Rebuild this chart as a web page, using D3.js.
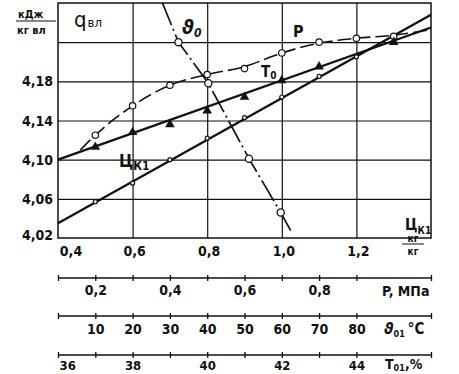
<!doctype html>
<html>
<head>
<script src="https://cdn.jsdelivr.net/npm/d3@7/dist/d3.min.js"></script>
<style>
body { margin: 0; background: #fff; }
svg { display: block; background: #fff; }
text { font-family: "Liberation Sans Narrow", "DejaVu Sans Condensed", "Arial Narrow", sans-serif; font-weight: bold; fill: #111; }
.grid line, .grid path { stroke: #111; stroke-width: 1.2; }
</style>
</head>
<body>
<svg width="459" height="374"></svg>
<script>
// main axes
var xTicks = [0.4, 0.6, 0.8, 1.0, 1.2];
var yTicks = [4.06, 4.10, 4.14, 4.18, 4.22];
var yLabels = [4.02, 4.06, 4.10, 4.14, 4.18];

// q_vl (dashed, open circles)
var qX = [0.5, 0.6, 0.7, 0.8, 0.9, 1.0, 1.1, 1.2, 1.3];
var qY = [4.125, 4.155, 4.176, 4.187, 4.193, 4.209, 4.220, 4.224, 4.226];
var qLineX = [0.46, 0.5, 0.6, 0.7, 0.8, 0.9, 1.0, 1.1, 1.2, 1.3, 1.4];
var qLineY = [4.110, 4.125, 4.155, 4.176, 4.187, 4.195, 4.209, 4.219, 4.224, 4.227, 4.233];

// T0 (solid, triangles)
var t0X = [0.5, 0.6, 0.7, 0.8, 0.9, 1.0, 1.1, 1.3];
var t0Y = [4.113, 4.128, 4.136, 4.150, 4.164, 4.181, 4.195, 4.220];
var t0LineX = [0.4, 1.4];
var t0LineY = [4.100, 4.235];

// U_K1 (solid, small circles)
var ukX = [0.5, 0.6, 0.7, 0.8, 0.9, 1.0, 1.1, 1.2];
var ukY = [4.057, 4.076, 4.100, 4.122, 4.143, 4.164, 4.185, 4.205];
var ukLineX = [0.4, 1.4];
var ukLineY = [4.035, 4.248];

// theta0 (dash-dot, open circles)
var thX = [0.68, 0.723, 0.803, 0.912, 0.997, 1.029];
var thY = [4.26, 4.220, 4.178, 4.101, 4.046, 4.024];
var thMarks = [1, 2, 3, 4];

// extra scales under the chart
var pTicks = [0.1, 0.2, 0.3, 0.4, 0.5, 0.6, 0.7, 0.8, 0.9, 1.1];
var pLabels = [0.2, 0.4, 0.6, 0.8];
var tempTicks = [0, 10, 20, 30, 40, 50, 60, 70, 80, 100];
var tempLabels = [10, 20, 30, 40, 50, 60, 70, 80];
var tTicks = [36, 37, 38, 39, 40, 41, 42, 43, 44, 46];
var tLabels = [36, 38, 40, 42, 44];

var svg = d3.select("svg");
var L = 58, R = 431, T = 3, B = 238;
var x = d3.scaleLinear().domain([0.4, 1.4]).range([L, R]);
var y = d3.scaleLinear().domain([4.02, 4.26]).range([B, T]);
var comma = function(f) { return function(d) { return d3.format(f)(d).replace(".", ","); }; };

// grid
svg.append("g").attr("class", "grid").attr("transform", "translate(0," + B + ")")
  .call(d3.axisBottom(x).tickValues([0.6, 0.8, 1.0, 1.2]).tickSize(-(B - T)).tickFormat(""))
  .select(".domain").remove();
svg.append("g").attr("class", "grid").attr("transform", "translate(" + L + ",0)")
  .call(d3.axisLeft(y).tickValues(yTicks).tickSize(-(R - L)).tickFormat(""))
  .select(".domain").remove();
svg.append("rect").attr("x", L).attr("y", T).attr("width", R - L).attr("height", B - T)
  .attr("fill", "none").attr("stroke", "#111").attr("stroke-width", 1.5);

// tick labels
svg.selectAll(".ylab").data(yLabels).enter().append("text")
  .attr("x", 53).attr("y", d => y(d) + (d === 4.02 ? 2 : 5))
  .attr("text-anchor", "end").style("font-size", "14px")
  .text(comma(".2f"));
svg.selectAll(".xlab").data(xTicks).enter().append("text")
  .attr("x", d => x(d) + (d === 0.4 ? 13 : 2)).attr("y", 256)
  .attr("text-anchor", "middle").style("font-size", "14px")
  .text(comma(".1f"));

// units
svg.append("text").attr("x", 18).attr("y", 18).style("font-size", "11px").text("кДж");
svg.append("line").attr("x1", 16).attr("x2", 56).attr("y1", 21).attr("y2", 21).attr("stroke", "#111").attr("stroke-width", 1.2);
svg.append("text").attr("x", 17).attr("y", 34).style("font-size", "11px").text("кг вл");
svg.append("text").attr("x", 405).attr("y", 230).style("font-size", "15px").text("Ц")
  .append("tspan").attr("dy", 4).style("font-size", "10px").text("К1");
svg.append("text").attr("x", 413).attr("y", 242).attr("text-anchor", "middle").style("font-size", "10px").text("кг");
svg.append("line").attr("x1", 402).attr("x2", 424).attr("y1", 244).attr("y2", 244).attr("stroke", "#111").attr("stroke-width", 1);
svg.append("text").attr("x", 413).attr("y", 255).attr("text-anchor", "middle").style("font-size", "10px").text("кг");

// series
var line = d3.line().x(d => x(d[0])).y(d => y(d[1]));
var zip = function(a, b) { return a.map((v, i) => [v, b[i]]); };

svg.append("path").attr("d", line(zip(ukLineX, ukLineY)))
  .attr("fill", "none").attr("stroke", "#111").attr("stroke-width", 2.3);
svg.append("path").attr("d", line(zip(t0LineX, t0LineY)))
  .attr("fill", "none").attr("stroke", "#111").attr("stroke-width", 2.3);
svg.append("path").attr("d", line.curve(d3.curveMonotoneX)(zip(qLineX, qLineY)))
  .attr("fill", "none").attr("stroke", "#111").attr("stroke-width", 1.6).attr("stroke-dasharray", "14,5");
svg.append("path").attr("d", line.curve(d3.curveLinear)(zip(thX, thY)))
  .attr("fill", "none").attr("stroke", "#111").attr("stroke-width", 1.7).attr("stroke-dasharray", "24,4,2,4");

svg.selectAll(".uk").data(zip(ukX, ukY)).enter().append("circle")
  .attr("cx", d => x(d[0])).attr("cy", d => y(d[1])).attr("r", 2)
  .attr("fill", "#fff").attr("stroke", "#111").attr("stroke-width", 1.2);
svg.selectAll(".q").data(zip(qX, qY)).enter().append("circle")
  .attr("cx", d => x(d[0])).attr("cy", d => y(d[1])).attr("r", 3.2)
  .attr("fill", "#fff").attr("stroke", "#111").attr("stroke-width", 1.2);
svg.selectAll(".th").data(thMarks).enter().append("circle")
  .attr("cx", i => x(thX[i])).attr("cy", i => y(thY[i])).attr("r", 3.6)
  .attr("fill", "#fff").attr("stroke", "#111").attr("stroke-width", 1.3);
svg.selectAll(".t0").data(zip(t0X, t0Y)).enter().append("path")
  .attr("d", d3.symbol(d3.symbolTriangle, 40))
  .attr("transform", d => "translate(" + x(d[0]) + "," + y(d[1]) + ")")
  .attr("fill", "#111");

// curve labels
svg.append("text").attr("x", 74).attr("y", 27).style("font-size", "22px").style("font-weight", "normal").text("q")
  .append("tspan").attr("dx", 1).style("font-size", "13px").text("вл");
svg.append("text").attr("x", 182).attr("y", 34).style("font-size", "20px").style("font-style", "italic").text("ϑ")
  .append("tspan").attr("dy", 3).style("font-size", "12px").text("0");
svg.append("text").attr("x", 293).attr("y", 37).style("font-size", "16px").text("P");
svg.append("text").attr("x", 261).attr("y", 77).style("font-size", "15px").text("T")
  .append("tspan").attr("dy", 2).style("font-size", "10px").text("0");
svg.append("text").attr("x", 119).attr("y", 167).style("font-size", "17px").text("Ц")
  .append("tspan").attr("dy", 3).style("font-size", "12px").text("К1");

// extra scales
function scaleRow(dom, ticks, labels, fmt, yy, dy, fs) {
  var s = d3.scaleLinear().domain(dom).range([L, R]);
  var g = svg.append("g").attr("transform", "translate(0," + yy + ")")
    .call(d3.axisBottom(s).tickValues(ticks).tickSizeOuter(0).tickSize(3)
      .tickFormat(d => labels.indexOf(d) >= 0 ? fmt(d) : ""));
  g.select(".domain").attr("stroke", "#111").attr("stroke-width", 1.3).attr("d", "M" + L + ",0H" + R);
  g.selectAll(".tick line").attr("y1", -3).attr("y2", 3).attr("stroke", "#111").attr("stroke-width", 1.3);
  g.selectAll(".tick text").attr("y", dy).attr("dy", 0).style("font-size", fs + "px")
    .style("font-family", null).attr("fill", "#111");
  return g;
}
scaleRow([0.1, 1.1], pTicks, pLabels, comma(".1f"), 278, 17, 14);
scaleRow([0, 100], tempTicks, tempLabels, d3.format("d"), 316, 18, 14);
var tRow = scaleRow([36, 46], tTicks, tLabels, d3.format("d"), 355, 15, 13);
tRow.selectAll(".tick text").filter(d => d === 36).attr("text-anchor", "start").attr("x", 1);

svg.append("text").attr("x", 382).attr("y", 296).style("font-size", "14px").text("P, МПа");
svg.append("text").attr("x", 384).attr("y", 334).style("font-size", "16px").style("font-style", "italic").text("ϑ")
  .append("tspan").attr("dy", 3).style("font-size", "9px").style("font-style", "normal").text("01")
  .append("tspan").attr("dy", -3).attr("dx", 3).style("font-size", "15px").text("°C");
svg.append("text").attr("x", 385).attr("y", 369).style("font-size", "14px").text("T")
  .append("tspan").attr("dy", 2).style("font-size", "9px").text("01")
  .append("tspan").attr("dy", -2).style("font-size", "14px").text(",%");
</script>
</body>
</html>
